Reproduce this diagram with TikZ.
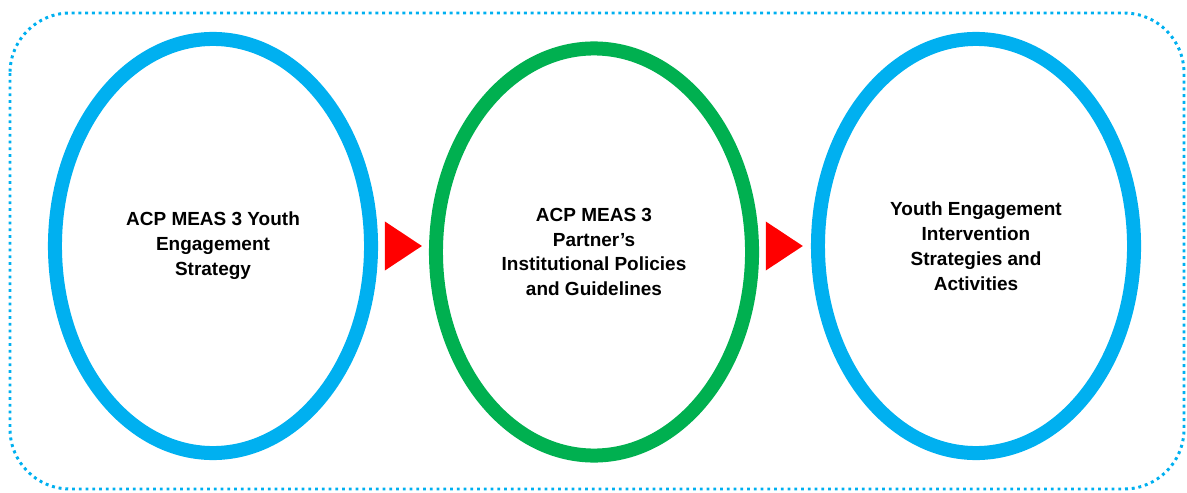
\documentclass[tikz,border=0pt]{standalone}
\usepackage{fontspec}
\setmainfont{Liberation Sans}
\usetikzlibrary{positioning,shapes.geometric}

\definecolor{ringblue}{HTML}{00B0F0}
\definecolor{ringgreen}{HTML}{00B050}

\tikzset{
  ring/.style={ellipse, draw=ringblue, line width=0.35cm,
    minimum width=7.9cm, minimum height=10.35cm, align=center,
    font=\fontsize{13.5}{17.7}\selectfont\bfseries},
  pointer/.style={isosceles triangle, isosceles triangle stretches,
    fill=red, inner sep=0pt, minimum width=1.225cm, minimum height=0.925cm,
    xshift=-0.15cm},
}

\begin{document}
\begin{tikzpicture}[x=0.025cm, y=-0.025cm, node distance=4.775cm]
    \useasboundingbox (0,0) rectangle (1187,492);

    % dotted frame
    \draw[ringblue, line width=2.1pt, dash pattern=on 2.1pt off 2.7pt,
          rounded corners=1.5cm] (10,13) rectangle (1184,489);

    % the three stages
    \node [ring] (youth) at (213,246)
        {ACP MEAS 3 Youth\\Engagement\\Strategy};
    \node [ring, draw=ringgreen, minimum height=10.175cm] (policy) at (594,252)
        {ACP MEAS 3\\Partner’s\\Institutional Policies\\and Guidelines};
    \node [ring] (activities) at (976,246)
        {Youth Engagement\\Intervention\\Strategies and\\Activities};

    % red pointers in between
    \node [pointer, right of=youth] (tri1) {};
    \node [pointer, left of=activities] (tri2) {};
\end{tikzpicture}
\end{document}
